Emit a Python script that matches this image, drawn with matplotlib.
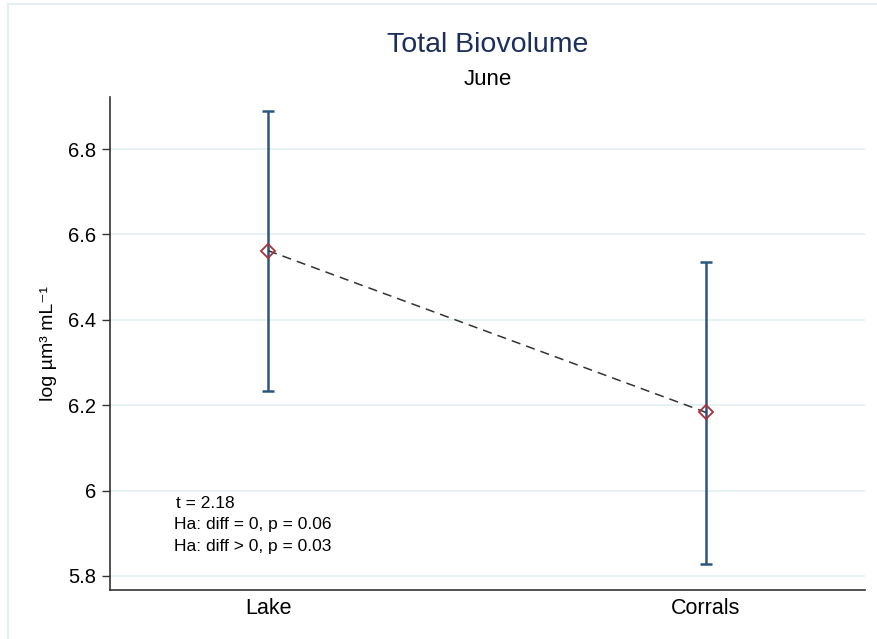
import matplotlib.pyplot as plt
from matplotlib.lines import Line2D

plt.rcParams['font.family'] = ['Liberation Sans', 'DejaVu Sans']

# data
groups = ["Lake", "Corrals"]
means = [6.562, 6.183]
upper = [6.889, 6.536]
lower = [6.233, 5.828]
yticks = [5.8, 6.0, 6.2, 6.4, 6.6, 6.8]
ytick_labels = ["5.8", "6", "6.2", "6.4", "6.6", "6.8"]
stats_lines = ["t = 2.18", "Ha: diff = 0, p = 0.06", "Ha: diff > 0, p = 0.03"]

xpos = [1, 2]
err_low = [m - l for m, l in zip(means, lower)]
err_high = [u - m for m, u in zip(means, upper)]

fig = plt.figure(figsize=(8.78, 6.39), dpi=100)
ax = fig.add_axes([0.1253, 0.0767, 0.8599, 0.7715])

# faint frame of the screenshot
fig.add_artist(Line2D([0.009, 0.009], [0.0, 0.994], color="#e6eef2", lw=1.5))
fig.add_artist(Line2D([0.009, 0.998], [0.994, 0.994], color="#e6eef2", lw=1.5))

ax.set_xlim(0.639, 2.363)
ax.set_ylim(5.767, 6.922)

for y in yticks:
    ax.axhline(y, color="#e3eef1", lw=1.2, zorder=0)

ax.errorbar(xpos, means, yerr=[err_low, err_high], fmt="none",
            ecolor="#2b5680", elinewidth=1.8, capsize=4, capthick=1.8, zorder=2)
ax.plot(xpos, means, linestyle=(0, (6, 4)), color="#333333", lw=1.1, zorder=3)
ax.plot(xpos, means, linestyle="none", marker="D", markersize=7,
        markerfacecolor="none", markeredgecolor="#a8323a", markeredgewidth=1.3, zorder=4)

ax.set_xticks(xpos)
ax.set_xticklabels(groups, fontsize=15.5)
ax.tick_params(axis="x", length=0, pad=6)
ax.set_yticks(yticks)
ax.set_yticklabels(ytick_labels, fontsize=14.5)
ax.tick_params(axis="y", length=6, width=1, color="#333333", pad=4)

for side in ["top", "right"]:
    ax.spines[side].set_visible(False)
for side in ["left", "bottom"]:
    ax.spines[side].set_color("#333333")
    ax.spines[side].set_linewidth(1.2)

ax.set_ylabel("log µm³ mL⁻¹", fontsize=14, labelpad=8)

fig.text(0.556, 0.93, "Total Biovolume", ha="center", va="center",
         fontsize=20.5, color="#1c2f5c")
fig.text(0.556, 0.875, "June", ha="center", va="center", fontsize=16)

baselines = [5.958, 5.910, 5.859]
for i, line in enumerate(stats_lines):
    ax.text(0.79 if i == 0 else 0.786, baselines[i], line,
            fontsize=12.5, ha="left", va="baseline")

fig.savefig("out.png", dpi=100)
